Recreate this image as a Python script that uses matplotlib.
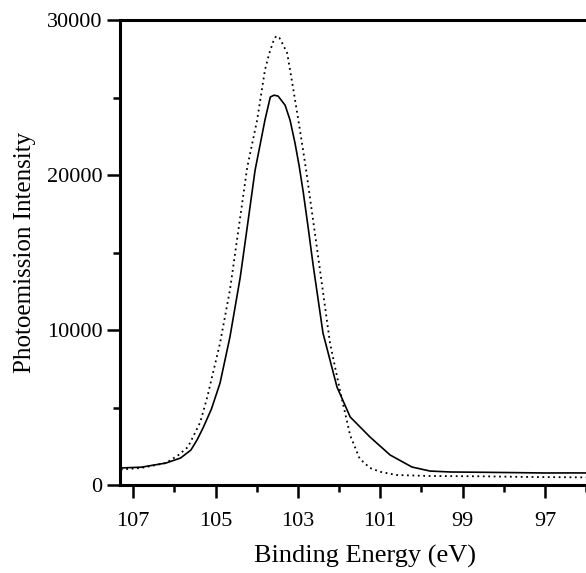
import matplotlib
matplotlib.use("Agg")
import matplotlib.pyplot as plt
from matplotlib.ticker import MultipleLocator

plt.rcParams["font.family"] = ["Liberation Serif", "DejaVu Serif"]

# solid spectrum
solid_e = [107.3, 106.8, 106.2, 105.85, 105.6, 105.45, 105.3, 105.1, 104.89, 104.65,
           104.4, 104.23, 104.04, 103.8, 103.67, 103.58, 103.48, 103.31, 103.19, 103.07,
           102.97, 102.87, 102.75, 102.63, 102.39, 102.05, 101.73, 101.25, 100.76, 100.23,
           99.79, 99.3, 98.5, 97.8, 97.0, 96.3, 95.4]
solid_i = [1100, 1150, 1420, 1740, 2250, 2900, 3700, 4900, 6580, 9550,
           13400, 16640, 20300, 23540, 25030, 25150, 25090, 24500, 23540, 22060,
           20600, 18900, 16600, 14200, 9800, 6320, 4390, 3100, 1935, 1160,
           900, 840, 820, 800, 775, 780, 770]

# dotted spectrum
dot_e = [107.3, 106.8, 106.2, 105.9, 105.67, 105.5, 105.37, 105.2, 104.89, 104.65,
         104.4, 104.23, 103.99, 103.8, 103.7, 103.6, 103.53, 103.45, 103.38, 103.26,
         103.12, 102.95, 102.8, 102.53, 102.22, 101.98, 101.73, 101.5, 101.25, 101.0,
         100.6, 99.8, 98.5, 97.5, 96.5, 95.4]
dot_i = [1000, 1100, 1420, 1935, 2450, 3350, 4060, 5680, 9160, 12580,
         17290, 20500, 23540, 26770, 27800, 28600, 28960, 28850, 28510, 27860,
         25670, 22900, 20320, 15160, 9160, 6130, 3200, 1700, 1100, 850,
         645, 580, 560, 520, 500, 480]

yticks = [0, 10000, 20000, 30000]
xticks = [107, 105, 103, 101, 99, 97]

fig = plt.figure(figsize=(5.86, 5.73), dpi=100)
ax = fig.add_axes([120 / 586, 1 - 485 / 573, 490 / 586, 465 / 573])

ax.plot(solid_e, solid_i, color="black", linewidth=1.2)
ax.plot(dot_e, dot_i, color="black", linewidth=1.3, linestyle=(0, (1, 2)))

ax.set_xlim(107.32, 95.42)
ax.set_ylim(0, 30000)
ax.set_xticks(xticks)
ax.set_yticks(yticks)
ax.xaxis.set_minor_locator(MultipleLocator(1))
ax.yaxis.set_minor_locator(MultipleLocator(5000))

for side in ["left", "bottom", "top"]:
    ax.spines[side].set_linewidth(2.2)
ax.spines["right"].set_visible(False)

ax.tick_params(which="major", direction="out", length=9.5, width=1.8, labelsize=16)
ax.tick_params(which="minor", direction="out", length=5, width=1.8)
ax.tick_params(axis="x", which="major", pad=10)
ax.tick_params(axis="y", which="major", pad=3)
ax.tick_params(top=False, right=False, which="both")

ax.set_xlabel("Binding Energy (eV)", fontsize=19, labelpad=10)
ax.set_ylabel("Photoemission Intensity", fontsize=18, labelpad=8)

fig.savefig("out.png", dpi=100)
